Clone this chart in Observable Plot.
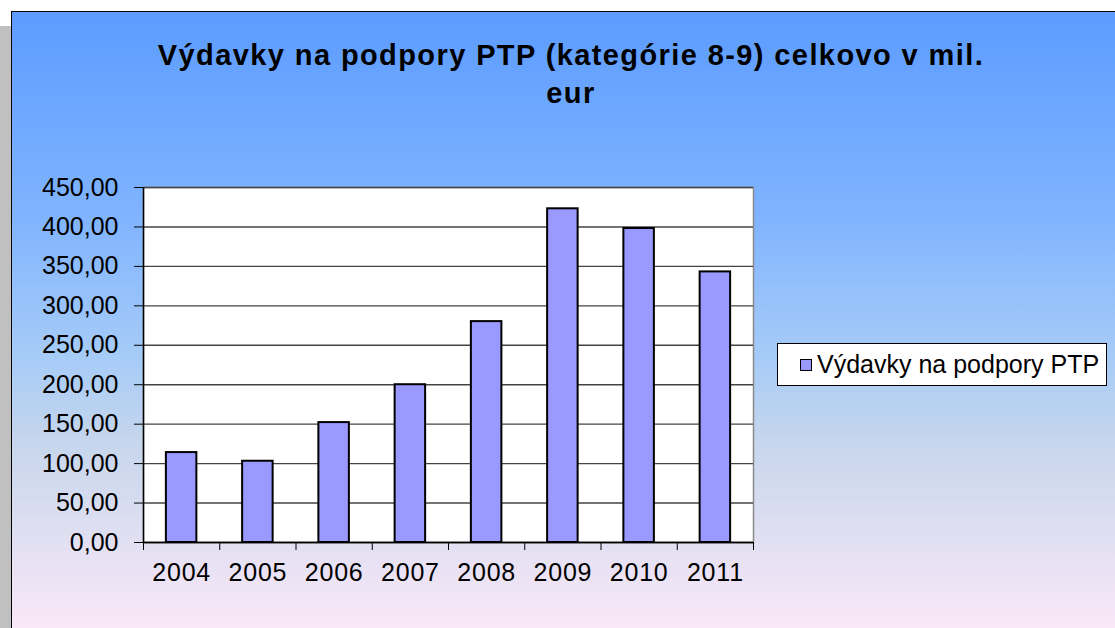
<!DOCTYPE html>
<html>
<head>
<meta charset="utf-8">
<script src="https://cdn.jsdelivr.net/npm/d3@7"></script>
<script src="https://cdn.jsdelivr.net/npm/@observablehq/plot@0.6"></script>
<style>
  html, body { margin: 0; padding: 0; background: #fff; }
  #wrap { position: relative; width: 1115px; height: 628px; overflow: hidden; font-family: "Liberation Sans", Arial, sans-serif; }
  #gray { position: absolute; left: 0; top: 26px; width: 11px; height: 602px; background: #c0c0c0; }
  #area { position: absolute; left: 11px; top: 11px; width: 1200px; height: 700px; border-top: 1.5px solid #000; border-left: 1.5px solid #000;
          background: linear-gradient(to bottom, #5c9cff 0px, #7fb3ff 200px, #a6cbf7 345px, #c6d6ec 430px, #faE8f8 617px); }
  #title { position: absolute; left: 0; width: 1142px; top: 36px; text-align: center; font-weight: bold; font-size: 29px; letter-spacing: 1.4px; line-height: 38px; color: #000; }
  #chart { position: absolute; left: 0; top: 0; }
  #chart svg g[aria-label="x-axis tick label"] text { letter-spacing: 0.8px; }
  #legend { position: absolute; left: 777px; top: 343px; width: 330px; height: 43px; box-sizing: border-box; border: 1.5px solid #000; background: #fff; }
  #legend .sw { position: absolute; left: 22px; top: 15px; width: 10px; height: 10px; background: #9999ff; border: 1.5px solid #000; }
  #legend .tx { position: absolute; left: 39px; top: 6px; font-size: 25px; line-height: 29px; color: #000; white-space: nowrap; }
</style>
</head>
<body>
<div id="wrap">
  <div id="gray"></div>
  <div id="area"></div>
  <div id="chart"></div>
  <div id="title"></div>
  <div id="legend"><div class="sw"></div><div class="tx"></div></div>
</div>
<script>
const titleLines = ["Výdavky na podpory PTP (kategórie 8-9) celkovo v mil.", "eur"];
const seriesName = "Výdavky na podpory PTP";
const years = [2004, 2005, 2006, 2007, 2008, 2009, 2010, 2011];
const values = [114, 103, 152, 200, 280, 423, 398, 343];
const yTicks = [0, 50, 100, 150, 200, 250, 300, 350, 400, 450];

const data = years.map((year, i) => ({year, value: values[i]}));
const boundaries = years.map(y => y - 0.5).concat([years[years.length - 1] + 0.5]);
const locale = d3.formatLocale({decimal: ",", thousands: " ", grouping: [3], currency: ["", " €"]});
const fmt = locale.format(".2f");

document.getElementById("title").innerHTML = titleLines.join("<br>");
document.querySelector("#legend .tx").textContent = seriesName;

const chart = Plot.plot({
  width: 1115,
  height: 628,
  marginLeft: 143,
  marginRight: 362,
  marginTop: 187,
  marginBottom: 86,
  style: {background: "transparent", fontFamily: "'Liberation Sans', Arial, sans-serif", fontSize: "25px", color: "#000"},
  x: {type: "linear", domain: [boundaries[0], boundaries[boundaries.length - 1]]},
  y: {domain: [0, 450]},
  marks: [
    Plot.frame({fill: "white", stroke: "#8a8a8a", strokeWidth: 1.5}),
    Plot.gridY(yTicks, {stroke: "#444", strokeOpacity: 1, strokeWidth: 1.4}),
    Plot.rectY(data, {x1: d => d.year - 0.2, x2: d => d.year + 0.2, y: "value", fill: "#9999ff", stroke: "#000", strokeWidth: 2}),
    Plot.ruleY([0], {stroke: "#000", strokeWidth: 1.5}),
    Plot.ruleX([boundaries[0]], {stroke: "#000", strokeWidth: 1.5}),
    Plot.axisY({ticks: yTicks, tickSize: 9, tickPadding: 16, tickFormat: fmt, label: null, fontSize: 25, fill: "#000", stroke: "#000"}),
    Plot.axisX({ticks: boundaries, tickSize: 8, tickFormat: () => "", label: null, stroke: "#000"}),
    Plot.axisX({ticks: years, tickSize: 0, tickPadding: 21, tickFormat: d => String(d), label: null, fontSize: 25, fill: "#000"})
  ]
});
document.getElementById("chart").appendChild(chart);
</script>
</body>
</html>
